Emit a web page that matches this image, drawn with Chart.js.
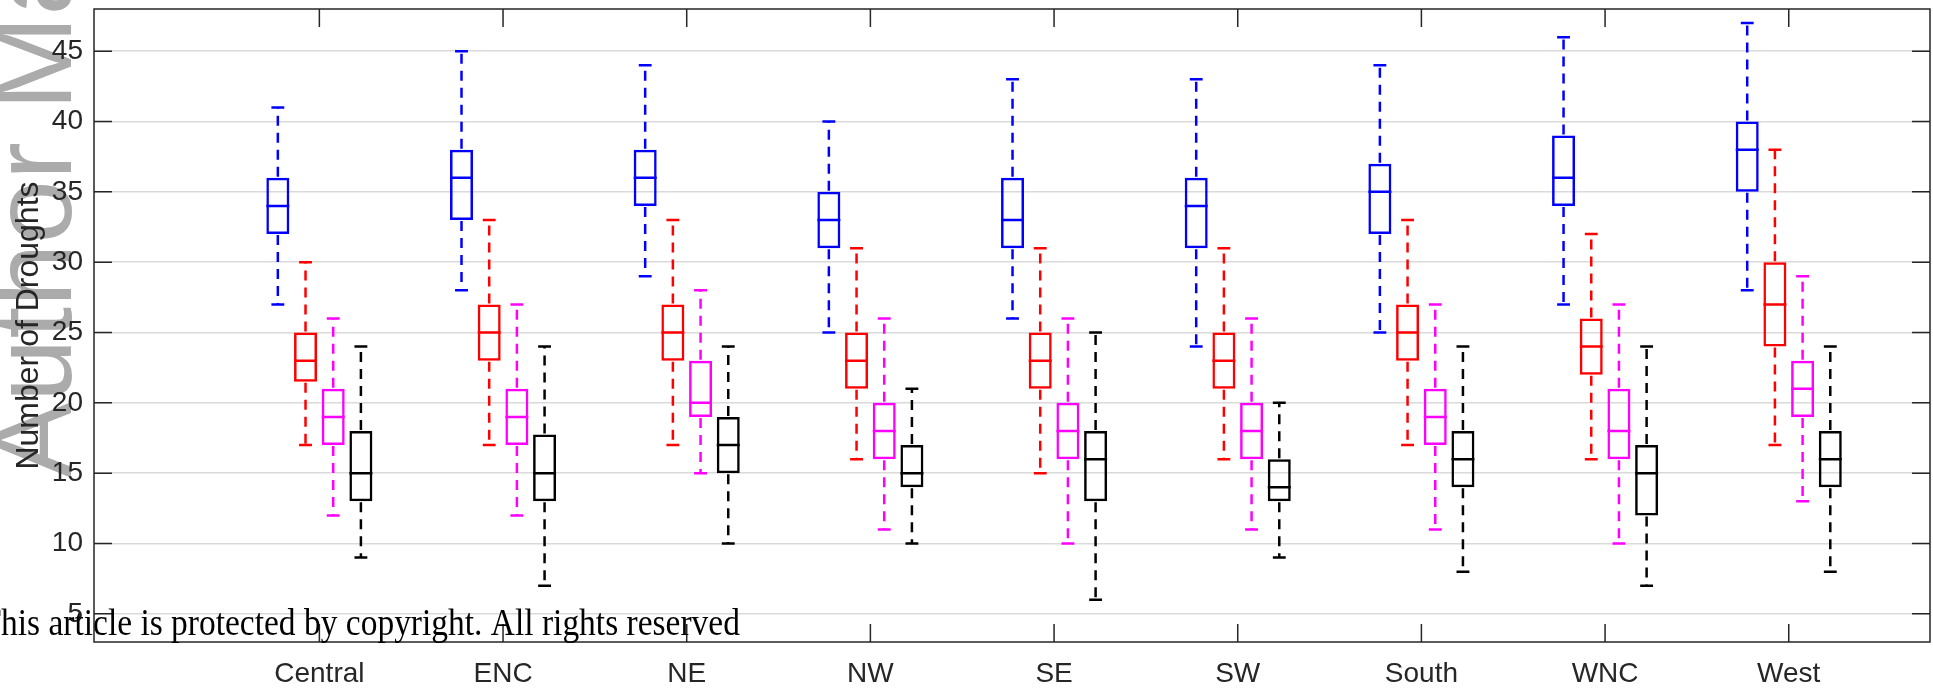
<!DOCTYPE html>
<html>
<head>
<meta charset="utf-8">
<script src="https://cdn.jsdelivr.net/npm/chart.js@4.4.0/dist/chart.umd.min.js"></script>
<style>
  html, body { margin: 0; padding: 0; background: #fff; }
  #wrap { width: 1933px; height: 693px; }
</style>
</head>
<body>
<div id="wrap"><canvas id="chart" width="1933" height="693"></canvas></div>
<script>
const categories = ['Central', 'ENC', 'NE', 'NW', 'SE', 'SW', 'South', 'WNC', 'West'];
const yTicks = [5, 10, 15, 20, 25, 30, 35, 40, 45];
const seriesNames = ['Series 1', 'Series 2', 'Series 3', 'Series 4'];
const seriesColors = ['#0000ff', '#ff0000', '#ff00ff', '#000000'];

// each entry: [min, q1, median, q3, max]
const blueStats = [
    [27, 32, 34, 36, 41], [28, 33, 36, 38, 45], [29, 34, 36, 38, 44],
    [25, 31, 33, 35, 40], [26, 31, 33, 36, 43], [24, 31, 34, 36, 43],
    [25, 32, 35, 37, 44], [27, 34, 36, 39, 46], [28, 35, 38, 40, 47]
];
const redStats = [
    [17, 21.5, 23, 25, 30], [17, 23, 25, 27, 33], [17, 23, 25, 27, 33],
    [16, 21, 23, 25, 31], [15, 21, 23, 25, 31], [16, 21, 23, 25, 31],
    [17, 23, 25, 27, 33], [16, 22, 24, 26, 32], [17, 24, 27, 30, 38]
];
const magentaStats = [
    [12, 17, 19, 21, 26], [12, 17, 19, 21, 27], [15, 19, 20, 23, 28],
    [11, 16, 18, 20, 26], [10, 16, 18, 20, 26], [11, 16, 18, 20, 26],
    [11, 17, 19, 21, 27], [10, 16, 18, 21, 27], [13, 19, 21, 23, 29]
];
const blackStats = [
    [9, 13, 15, 18, 24], [7, 13, 15, 17.75, 24], [10, 15, 17, 19, 24],
    [10, 14, 15, 17, 21], [6, 13, 16, 18, 25], [9, 13, 14, 16, 20],
    [8, 14, 16, 18, 24], [7, 12, 15, 17, 24], [8, 14, 16, 18, 24]
];

const allStats = [blueStats, redStats, magentaStats, blackStats];
const axisColor = '#262626';
const sans = '"Liberation Sans", Arial, sans-serif';

// boxes are floating bars [q1, q3]
const datasets = allStats.map((stats, s) => ({
    label: seriesNames[s],
    data: stats.map((b, i) => ({ x: i + 1, y: [b[1], b[3]] })),
    backgroundColor: 'rgba(0,0,0,0)',
    borderColor: seriesColors[s],
    borderWidth: 2.5,
    borderSkipped: false,
    categoryPercentage: 0.603,
    barPercentage: 0.83
}));

/* white background + watermark */
const watermark = {
    id: 'watermark',
    beforeDraw(chart) {
        const ctx = chart.ctx;
        ctx.save();
        ctx.fillStyle = '#fff';
        ctx.fillRect(0, 0, chart.width, chart.height);
        ctx.translate(71, 478);
        ctx.rotate(-Math.PI / 2);
        ctx.font = '114px ' + sans;
        ctx.fillStyle = '#ababab';
        ctx.fillText('Author Manuscript', 0, 0);
        ctx.restore();
    }
};

/* medians, dashed whiskers and caps */
const whiskers = {
    id: 'whiskers',
    afterDatasetsDraw(chart) {
        const ctx = chart.ctx;
        const y = chart.scales.y;
        chart.data.datasets.forEach((ds, s) => {
            chart.getDatasetMeta(s).data.forEach((bar, i) => {
                const [lo, q1, med, q3, hi] = allStats[s][i];
                const half = bar.width / 2;
                const cap = bar.width * 0.28;
                ctx.save();
                ctx.strokeStyle = ds.borderColor;
                ctx.lineWidth = 2.5;
                ctx.beginPath();
                ctx.moveTo(bar.x - half, y.getPixelForValue(med));
                ctx.lineTo(bar.x + half, y.getPixelForValue(med));
                ctx.moveTo(bar.x - cap, y.getPixelForValue(hi));
                ctx.lineTo(bar.x + cap, y.getPixelForValue(hi));
                ctx.moveTo(bar.x - cap, y.getPixelForValue(lo));
                ctx.lineTo(bar.x + cap, y.getPixelForValue(lo));
                ctx.stroke();
                ctx.setLineDash([10, 7]);
                ctx.beginPath();
                ctx.moveTo(bar.x, y.getPixelForValue(q3) - 1);
                ctx.lineTo(bar.x, y.getPixelForValue(hi));
                ctx.moveTo(bar.x, y.getPixelForValue(q1) + 1);
                ctx.lineTo(bar.x, y.getPixelForValue(lo));
                ctx.stroke();
                ctx.restore();
            });
        });
    }
};

/* box frame with inward ticks, then the copyright line */
const frame = {
    id: 'frame',
    afterDraw(chart) {
        const { ctx, chartArea: a, scales: { x, y } } = chart;
        ctx.save();
        ctx.strokeStyle = axisColor;
        ctx.lineWidth = 1.5;
        ctx.strokeRect(a.left, a.top, a.right - a.left, a.bottom - a.top);
        ctx.beginPath();
        x.ticks.forEach(t => {
            const px = x.getPixelForValue(t.value);
            ctx.moveTo(px, a.top); ctx.lineTo(px, a.top + 18);
            ctx.moveTo(px, a.bottom); ctx.lineTo(px, a.bottom - 18);
        });
        y.ticks.forEach(t => {
            const py = y.getPixelForValue(t.value);
            ctx.moveTo(a.left, py); ctx.lineTo(a.left + 18, py);
            ctx.moveTo(a.right, py); ctx.lineTo(a.right - 18, py);
        });
        ctx.stroke();

        // serif line, stretched a little in height to look like the original face
        const tail = 'his article is protected by copyright. All rights reserved';
        ctx.font = '30px "Liberation Serif", serif';
        const size = 30 * 739 / ctx.measureText(tail).width;
        ctx.font = size + 'px "Liberation Serif", serif';
        const tW = ctx.measureText('T').width;
        ctx.translate(0, 635);
        ctx.scale(1, 1.15);
        ctx.fillStyle = '#000';
        ctx.fillText('T' + tail, 1 - tW, 0);
        ctx.restore();
    }
};

new Chart(document.getElementById('chart'), {
    type: 'bar',
    data: { datasets },
    plugins: [watermark, whiskers, frame],
    options: {
        responsive: false,
        animation: false,
        layout: { padding: { top: 9, right: 3, left: 0, bottom: 0 } },
        plugins: { legend: { display: false }, tooltip: { enabled: false } },
        scales: {
            x: {
                type: 'linear',
                min: -0.227,
                max: 9.769,
                offset: false,
                afterBuildTicks: s => { s.ticks = categories.map((c, i) => ({ value: i + 1 })); },
                grid: { display: false, offset: false },
                border: { display: false },
                ticks: {
                    callback: v => categories[v - 1],
                    color: axisColor,
                    font: { family: sans, size: 28 },
                    padding: 7,
                    maxRotation: 0,
                    autoSkip: false
                },
                afterFit: s => {
                    s.height = 51;
                    s.paddingLeft = 0;
                    s.paddingRight = 0;
                }
            },
            y: {
                min: 3,
                max: 48,
                afterBuildTicks: s => { s.ticks = yTicks.map(v => ({ value: v })); },
                grid: { color: '#dadada', lineWidth: 1.5, drawTicks: false },
                border: { display: false },
                ticks: {
                    color: axisColor,
                    font: { family: sans, size: 28 },
                    padding: 11
                },
                title: {
                    display: true,
                    text: 'Number of Droughts',
                    color: axisColor,
                    font: { family: sans, size: 32 },
                    padding: { top: 10, bottom: 0 }
                },
                afterFit: s => {
                    s.width = 94;
                    s.paddingTop = 0;
                    s.paddingBottom = 0;
                }
            }
        }
    }
});
</script>
</body>
</html>
